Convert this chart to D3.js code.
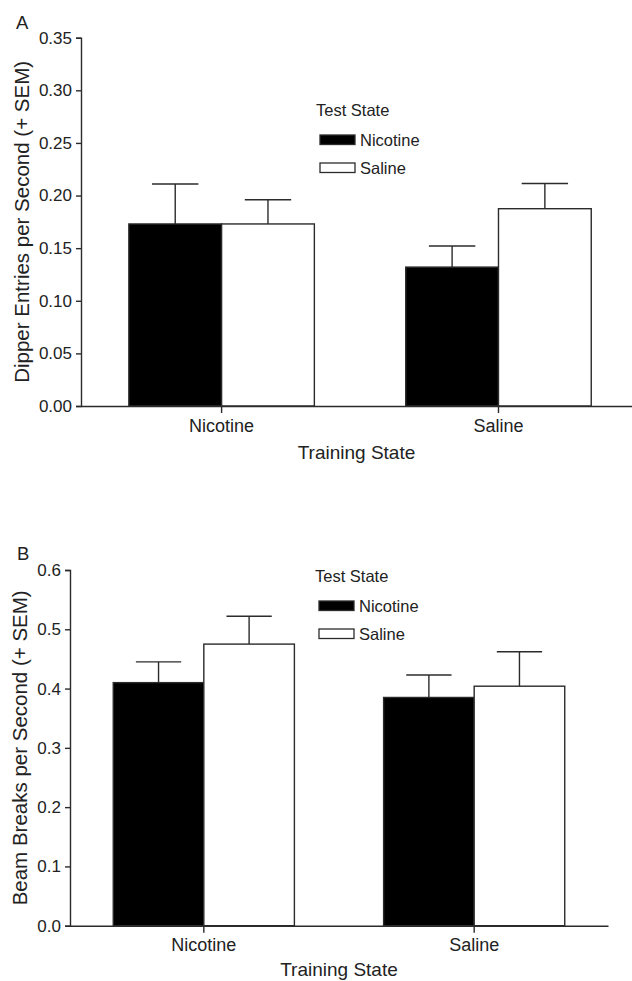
<!DOCTYPE html>
<html>
<head>
<meta charset="utf-8">
<script src="https://cdn.jsdelivr.net/npm/d3@7"></script>
<style>
  body { margin: 0; background: #fff; }
  svg { display: block; }
  text { font-family: Arial, "Liberation Sans", sans-serif; fill: #222; }
</style>
</head>
<body>
<div id="chart"></div>
<script>
// data
const trainingStates = ["Nicotine", "Saline"];
const testStates = ["Nicotine", "Saline"];

// panel A: dipper entries per second
const dipperMeans = [[0.173, 0.173], [0.132, 0.1875]];
const dipperSem = [[0.038, 0.023], [0.020, 0.024]];
const dipperTicks = [0, 0.05, 0.10, 0.15, 0.20, 0.25, 0.30, 0.35];

// panel B: beam breaks per second
const beamMeans = [[0.410, 0.475], [0.385, 0.404]];
const beamSem = [[0.035, 0.047], [0.038, 0.058]];
const beamTicks = [0, 0.1, 0.2, 0.3, 0.4, 0.5, 0.6];

const width = 632, height = 981;
const ink = "#2b2b2b";
const fills = ["#000", "#fff"];

const svg = d3.select("#chart").append("svg")
  .attr("width", width)
  .attr("height", height);

function drawPanel(p) {
  const g = svg.append("g");

  const y = d3.scaleLinear().domain([0, p.yMax]).range([p.bottom, p.top]);
  const x0 = d3.scaleBand().domain(trainingStates)
    .range([p.left, p.right])
    .paddingInner(0.33).paddingOuter(0.16).align(p.align);
  const x1 = d3.scaleBand().domain(testStates).range([0, x0.bandwidth()]);

  // bars
  const groups = g.selectAll(".grp")
    .data(trainingStates)
    .enter().append("g")
    .attr("transform", d => `translate(${x0(d)},0)`);

  const rows = (d, i) => testStates.map((t, j) => ({
    test: t, j, v: p.means[i][j], sem: p.sem[i][j]
  }));

  groups.each(function(d, i) {
    const grp = d3.select(this);
    const items = rows(d, i);

    grp.selectAll("rect")
      .data(items)
      .enter().append("rect")
      .attr("x", e => x1(e.test))
      .attr("y", e => y(e.v))
      .attr("width", x1.bandwidth())
      .attr("height", e => y(0) - y(e.v))
      .attr("fill", e => fills[e.j])
      .attr("stroke", ink)
      .attr("stroke-width", 1.4);

    // error bars (+ SEM only)
    const cap = x1.bandwidth() * 0.25;
    grp.selectAll(".err")
      .data(items)
      .enter().append("line")
      .attr("x1", e => x1(e.test) + x1.bandwidth() / 2)
      .attr("x2", e => x1(e.test) + x1.bandwidth() / 2)
      .attr("y1", e => y(e.v))
      .attr("y2", e => y(e.v + e.sem))
      .attr("stroke", ink)
      .attr("stroke-width", 1.4);

    grp.selectAll(".cap")
      .data(items)
      .enter().append("line")
      .attr("x1", e => x1(e.test) + x1.bandwidth() / 2 - cap)
      .attr("x2", e => x1(e.test) + x1.bandwidth() / 2 + cap)
      .attr("y1", e => y(e.v + e.sem))
      .attr("y2", e => y(e.v + e.sem))
      .attr("stroke", ink)
      .attr("stroke-width", 1.4);
  });

  // y axis
  const yAxis = g.append("g")
    .attr("transform", `translate(${p.left},0)`)
    .call(d3.axisLeft(y).tickValues(p.ticks).tickFormat(d3.format(p.fmt))
      .tickSize(5).tickPadding(4));
  yAxis.select(".domain").attr("stroke", ink).attr("stroke-width", 1.4);
  yAxis.selectAll(".tick line").attr("stroke", ink).attr("stroke-width", 1.4);
  yAxis.selectAll(".tick text")
    .attr("font-size", 17).attr("fill", "#222")
    .attr("font-family", "Arial, 'Liberation Sans', sans-serif");

  // x axis
  const xAxis = g.append("g")
    .attr("transform", `translate(0,${p.bottom})`)
    .call(d3.axisBottom(x0).tickSize(7).tickPadding(6).tickSizeOuter(0));
  xAxis.selectAll(".tick")
    .attr("transform", d => `translate(${x0(d) + x0.bandwidth() / 2},0)`);
  xAxis.select(".domain").attr("stroke", ink).attr("stroke-width", 1.4);
  xAxis.selectAll(".tick line").attr("stroke", ink).attr("stroke-width", 1.4);
  xAxis.selectAll(".tick text")
    .attr("font-size", 18).attr("fill", "#222")
    .attr("font-family", "Arial, 'Liberation Sans', sans-serif");

  // axis titles
  g.append("text")
    .attr("x", (p.left + p.right) / 2)
    .attr("y", p.bottom + p.titleGap)
    .attr("text-anchor", "middle")
    .attr("font-size", 19)
    .text("Training State");

  g.append("text")
    .attr("transform", `translate(${p.yLabelX},${(p.top + p.bottom) / 2}) rotate(-90)`)
    .attr("text-anchor", "middle")
    .attr("font-size", 20.5)
    .text(p.yLabel);

  // panel letter
  g.append("text")
    .attr("x", p.letterX).attr("y", p.letterY)
    .attr("font-size", 18.5)
    .text(p.letter);

  // legend
  const lg = g.append("g").attr("transform", `translate(${p.legX},${p.legY})`);
  lg.append("text").attr("x", 0).attr("y", 0).attr("font-size", 16.5).text("Test State");
  testStates.forEach((t, j) => {
    lg.append("rect")
      .attr("x", 4).attr("y", 19 + j * 28)
      .attr("width", 35).attr("height", 9.5)
      .attr("fill", fills[j])
      .attr("stroke", ink).attr("stroke-width", 1.3);
    lg.append("text")
      .attr("x", 44).attr("y", 30 + j * 28)
      .attr("font-size", 16.5)
      .text(t);
  });
}

drawPanel({
  letter: "A", letterX: 16, letterY: 28.5,
  left: 81, right: 632, top: 37.7, bottom: 406, align: 0.54,
  yMax: 0.35, ticks: dipperTicks, fmt: ".2f",
  means: dipperMeans, sem: dipperSem,
  yLabel: "Dipper Entries per Second (+ SEM)", yLabelX: 28.5,
  legX: 316, legY: 116, titleGap: 53
});

drawPanel({
  letter: "B", letterX: 17, letterY: 560,
  left: 70, right: 608, top: 570, bottom: 925.7, align: 0.5,
  yMax: 0.6, ticks: beamTicks, fmt: ".1f",
  means: beamMeans, sem: beamSem,
  yLabel: "Beam Breaks per Second (+ SEM)", yLabelX: 27,
  legX: 315, legY: 582, titleGap: 50
});
</script>
</body>
</html>
